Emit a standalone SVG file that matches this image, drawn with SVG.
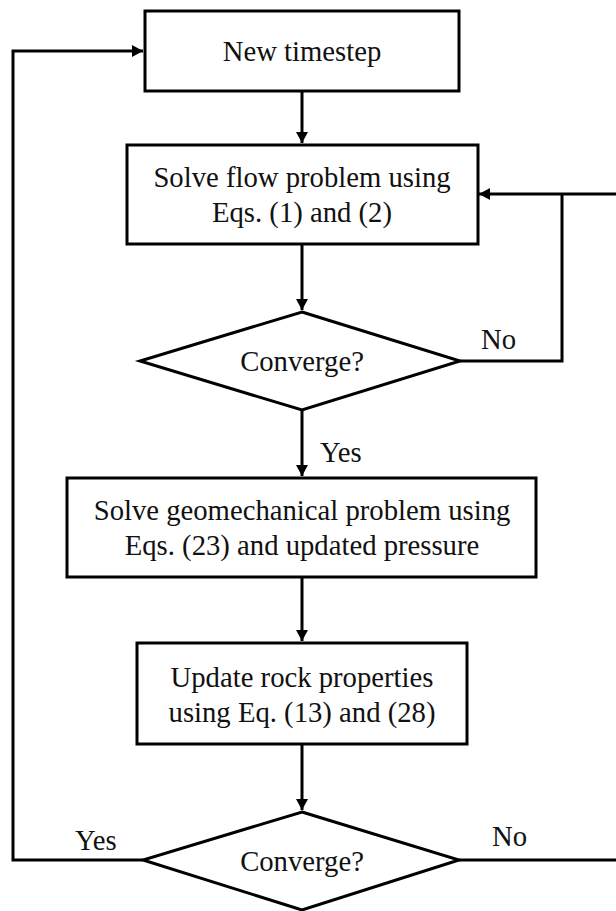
<svg xmlns="http://www.w3.org/2000/svg" width="616" height="911" viewBox="0 0 616 911">
<style>
.box{fill:#fff;stroke:#000;stroke-width:3}
.ln{fill:none;stroke:#000;stroke-width:3}
.t{font-family:"Liberation Serif","Times New Roman",serif;font-size:28.7px;fill:#111}
.c{text-anchor:middle}
</style>
<defs>
<marker id="ah" markerUnits="userSpaceOnUse" markerWidth="12" markerHeight="12" refX="11" refY="6" orient="auto">
<path d="M0,0 L11,6 L0,12 z" fill="#000"/>
</marker>
</defs>
<rect width="616" height="911" fill="#fff"/>
<g id="connectors">
<path class="ln" d="M302,91 V143" marker-end="url(#ah)"/>
<path class="ln" d="M302,244 V310" marker-end="url(#ah)"/>
<path class="ln" d="M302,410 V476" marker-end="url(#ah)"/>
<path class="ln" d="M302,577 V641" marker-end="url(#ah)"/>
<path class="ln" d="M302,744 V810" marker-end="url(#ah)"/>
<path class="ln" d="M460,361 H562 V194"/>
<path class="ln" d="M616,194 H479" marker-end="url(#ah)"/>
<path class="ln" d="M143,860 H13 V51 H143" marker-end="url(#ah)"/>
<path class="ln" d="M459,860 H616"/>
<text class="t" x="481" y="349">No</text>
<text class="t" x="320" y="462">Yes</text>
<text class="t" x="75" y="850">Yes</text>
<text class="t" x="492" y="846">No</text>
</g>
<g id="n1">
<rect class="box" x="145" y="11" width="314" height="80"/>
<text class="t c" x="302" y="61">New timestep</text>
</g>
<g id="n2">
<rect class="box" x="127" y="145" width="351" height="99"/>
<text class="t c" x="302" y="187">Solve flow problem using</text>
<text class="t c" x="302" y="222">Eqs. (1) and (2)</text>
</g>
<g id="d1">
<polygon class="box" points="302,312 460,361 302,410 140,361"/>
<text class="t c" x="302" y="371">Converge?</text>
</g>
<g id="n3">
<rect class="box" x="67" y="478" width="469" height="99"/>
<text class="t c" x="302" y="520">Solve geomechanical problem using</text>
<text class="t c" x="302" y="555">Eqs. (23) and updated pressure</text>
</g>
<g id="n4">
<rect class="box" x="137" y="643" width="330" height="101"/>
<text class="t c" x="302" y="687">Update rock properties</text>
<text class="t c" x="302" y="722">using Eq. (13) and (28)</text>
</g>
<g id="d2">
<polygon class="box" points="302,812 459,860 302,910 143,860"/>
<text class="t c" x="302" y="871">Converge?</text>
</g>
</svg>
